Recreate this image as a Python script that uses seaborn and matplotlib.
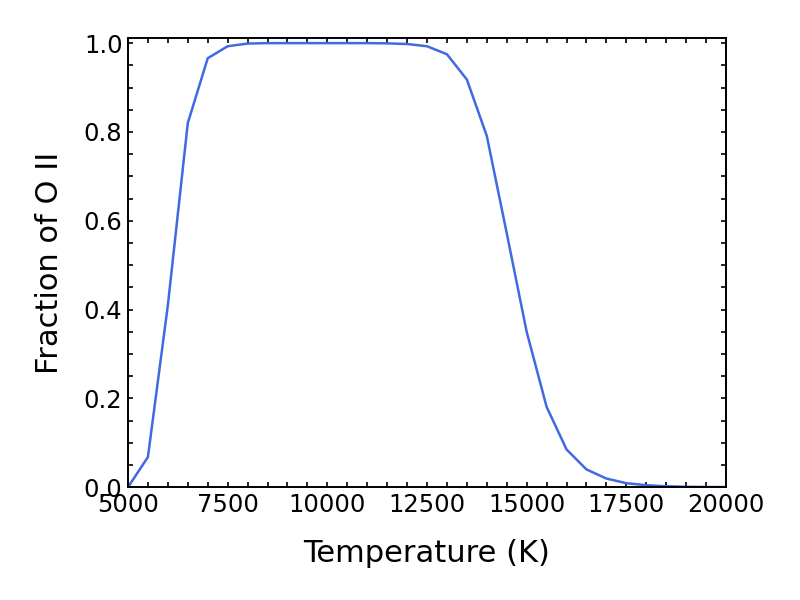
import matplotlib
matplotlib.use("Agg")
import matplotlib.pyplot as plt
import seaborn as sns
import pandas as pd
from matplotlib.ticker import MultipleLocator

temperature = [5000, 5500, 6000, 6500, 7000, 7500, 8000, 8500, 9000, 9500,
               10000, 10500, 11000, 11500, 12000, 12500, 13000, 13500, 14000,
               14500, 15000, 15500, 16000, 16500, 17000, 17500, 18000, 18500,
               19000, 19500, 20000]
fraction_o2 = [0.0, 0.068, 0.41, 0.82, 0.966, 0.993, 0.999, 1.0, 1.0, 1.0,
               1.0, 1.0, 1.0, 0.9995, 0.998, 0.993, 0.975, 0.918, 0.791,
               0.572, 0.35, 0.181, 0.085, 0.040, 0.0195, 0.009, 0.0045, 0.002,
               0.001, 0.0005, 0.0002]

df = pd.DataFrame({"T": temperature, "f": fraction_o2})

sns.set_style("ticks")
plt.rcParams['font.family'] = ['DejaVu Sans']
plt.rcParams['text.color'] = 'black'
plt.rcParams['axes.labelcolor'] = 'black'
plt.rcParams['xtick.color'] = 'black'
plt.rcParams['ytick.color'] = 'black'

fig = plt.figure(figsize=(8, 6), dpi=100)
ax = fig.add_axes([0.16, 0.188, 0.7475, 0.749])
sns.lineplot(data=df, x="T", y="f", ax=ax, color="royalblue", linewidth=1.8)

ax.set_xlim(5000, 20000)
ax.set_ylim(0, 1.012)
ax.xaxis.set_major_locator(MultipleLocator(2500))
ax.xaxis.set_minor_locator(MultipleLocator(500))
ax.yaxis.set_major_locator(MultipleLocator(0.2))
ax.yaxis.set_minor_locator(MultipleLocator(0.05))
ax.tick_params(which="both", direction="in", top=True, right=True,
               length=3.5, width=1.2, labelsize=17.5, color="black",
               labelcolor="black")
ax.tick_params(which="major", pad=4)
for s in ax.spines.values():
    s.set_linewidth(1.4)
    s.set_color("black")

ax.set_xlabel("Temperature (K)", fontsize=22, labelpad=16, color="black")
ax.set_ylabel("Fraction of O II", fontsize=22, labelpad=14, color="black")

fig.savefig("out.png", dpi=100)
